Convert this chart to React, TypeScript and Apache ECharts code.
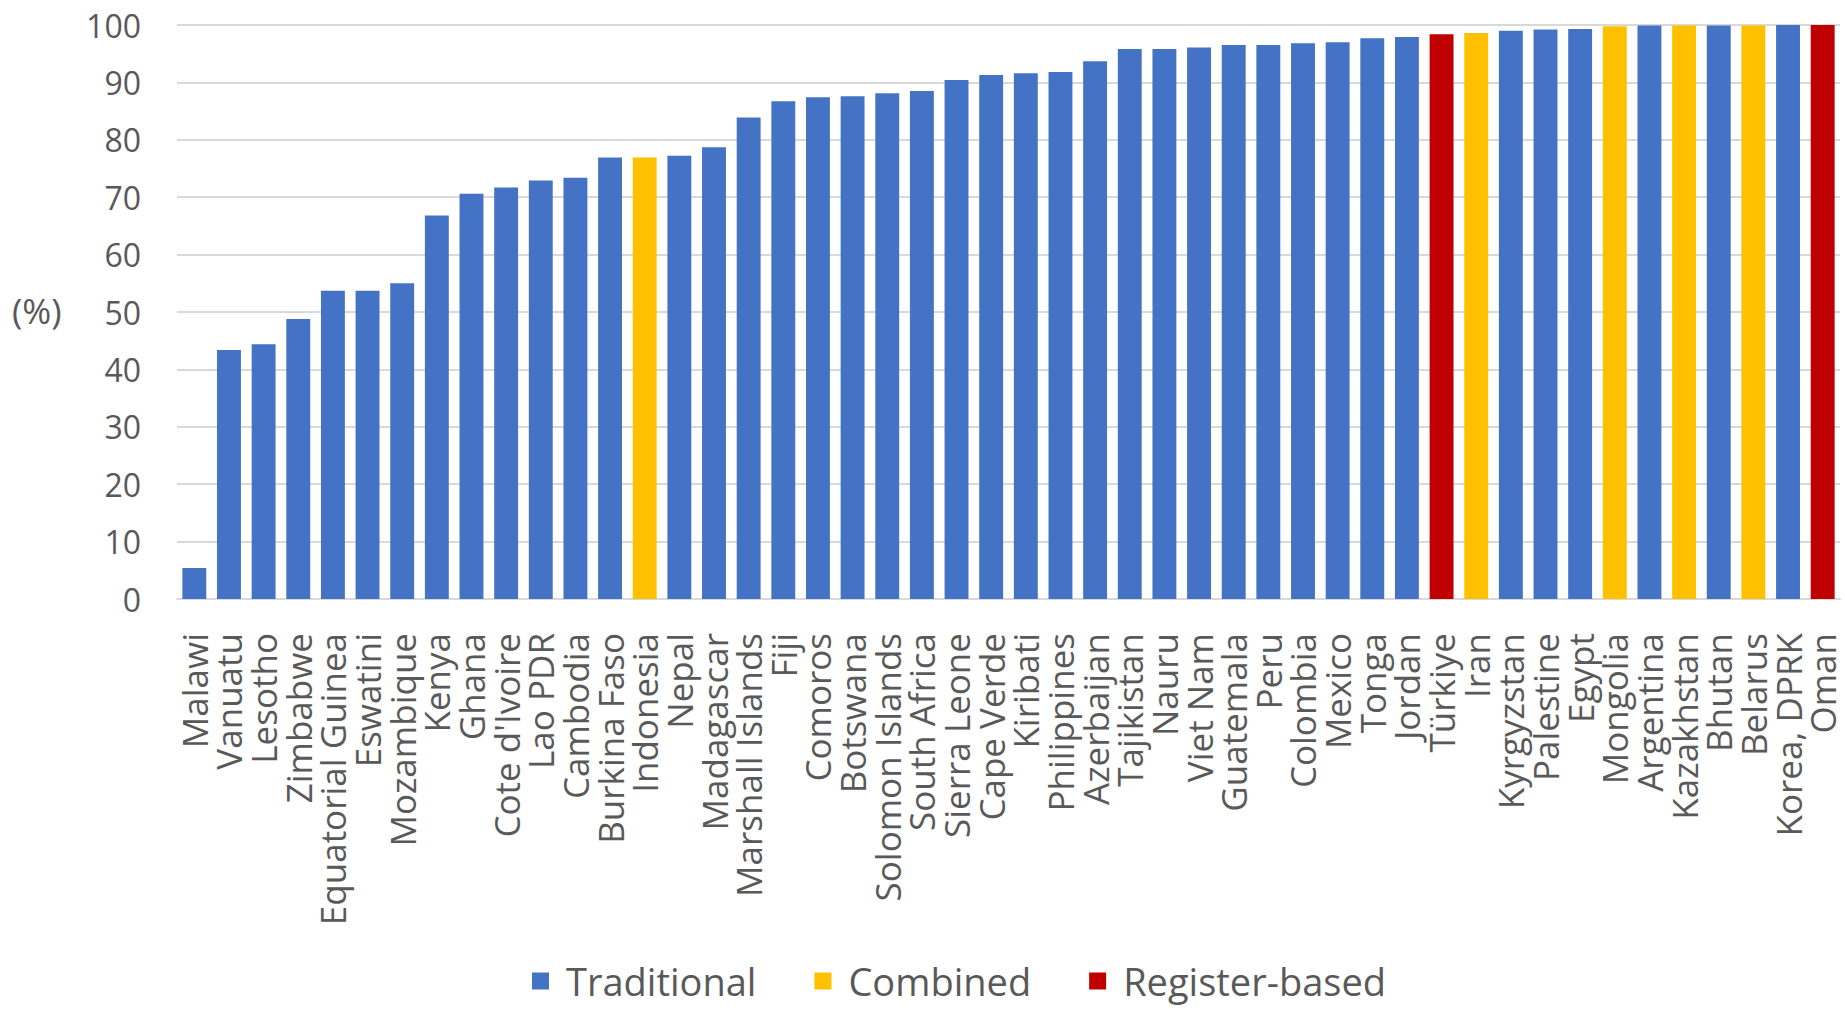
import React, { useEffect, useRef } from "react";
import * as echarts from "echarts";

const countries = [
  "Malawi", "Vanuatu", "Lesotho", "Zimbabwe", "Equatorial Guinea", "Eswatini", "Mozambique",
  "Kenya", "Ghana", "Cote d'Ivoire", "Lao PDR", "Cambodia", "Burkina Faso", "Indonesia", "Nepal",
  "Madagascar", "Marshall Islands", "Fiji", "Comoros", "Botswana", "Solomon Islands", "South Africa",
  "Sierra Leone", "Cape Verde", "Kiribati", "Philippines", "Azerbaijan", "Tajikistan", "Nauru",
  "Viet Nam", "Guatemala", "Peru", "Colombia", "Mexico", "Tonga", "Jordan", "Türkiye", "Iran",
  "Kyrgyzstan", "Palestine", "Egypt", "Mongolia", "Argentina", "Kazakhstan", "Bhutan", "Belarus",
  "Korea, DPRK", "Oman",
];

const values = [
  5.4, 43.4, 44.4, 48.8, 53.7, 53.7, 55.0,
  66.8, 70.6, 71.7, 72.9, 73.4, 76.9, 76.9, 77.2,
  78.7, 83.9, 86.7, 87.4, 87.6, 88.1, 88.5,
  90.4, 91.3, 91.6, 91.8, 93.7, 95.8, 95.8,
  96.1, 96.5, 96.5, 96.8, 97.0, 97.7, 97.9, 98.4, 98.6,
  99.0, 99.2, 99.3, 99.8, 99.9, 99.9, 99.9, 99.9,
  100, 100,
];

// T = Traditional, C = Combined, R = Register-based
const methods = [
  "T", "T", "T", "T", "T", "T", "T",
  "T", "T", "T", "T", "T", "T", "C", "T",
  "T", "T", "T", "T", "T", "T", "T",
  "T", "T", "T", "T", "T", "T", "T",
  "T", "T", "T", "T", "T", "T", "T", "R", "C",
  "T", "T", "T", "C", "T", "C", "T", "C",
  "T", "R",
];

const seriesNames = ["Traditional", "Combined", "Register-based"];
const seriesKeys = ["T", "C", "R"];
const seriesColors = ["#4472C4", "#FFC000", "#C00000"];
const yTicks = [0, 10, 20, 30, 40, 50, 60, 70, 80, 90, 100];

export default function App() {
  const ref = useRef<HTMLDivElement>(null);

  useEffect(() => {
    if (!ref.current) return;
    const chart = echarts.init(ref.current, undefined, { renderer: "svg" });
    const gray = "#595959";
    const font = "'Open Sans', 'Noto Sans', sans-serif";

    const series = seriesKeys.map((k, i) => ({
      name: seriesNames[i],
      type: "bar",
      stack: "all",
      barCategoryGap: "31%",
      itemStyle: { color: seriesColors[i] },
      data: values.map((v, j) => (methods[j] === k ? v : "-")),
    }));

    chart.setOption({
      animation: false,
      backgroundColor: "#ffffff",
      grid: { left: 177, right: 5, top: 25, bottom: 410, containLabel: false },
      xAxis: {
        type: "category",
        data: countries,
        axisLine: { show: true, lineStyle: { color: "#d9d9d9", width: 2 } },
        axisTick: { show: false },
        axisLabel: {
          interval: 0,
          rotate: 90,
          margin: 34,
          color: gray,
          fontSize: 35,
          fontFamily: font,
        },
      },
      yAxis: {
        type: "value",
        min: 0,
        max: 100,
        interval: 10,
        axisLine: { show: false },
        axisTick: { show: false },
        splitLine: { lineStyle: { color: "#d9d9d9", width: 2 } },
        axisLabel: {
          margin: 36,
          color: gray,
          fontSize: 32,
          fontFamily: font,
          formatter: (v: number) => (yTicks.includes(v) ? String(v) : ""),
        },
      },
      legend: {
        data: seriesNames,
        left: 527,
        top: 956,
        icon: "rect",
        itemWidth: 17,
        itemHeight: 17,
        itemGap: 58,
        textStyle: {
          color: gray,
          fontSize: 38,
          fontFamily: font,
          padding: [0, 0, 0, 12],
          lineHeight: 40,
        },
      },
      graphic: [
        {
          type: "text",
          left: 12,
          top: 293,
          style: {
            text: "(%)",
            fill: gray,
            fontSize: 35,
            fontFamily: font,
          },
        },
      ],
      series,
    });

    return () => chart.dispose();
  }, []);

  return (
    <div
      ref={ref}
      style={{ position: "absolute", left: 0, top: 0, width: 1845, height: 1009 }}
    />
  );
}
